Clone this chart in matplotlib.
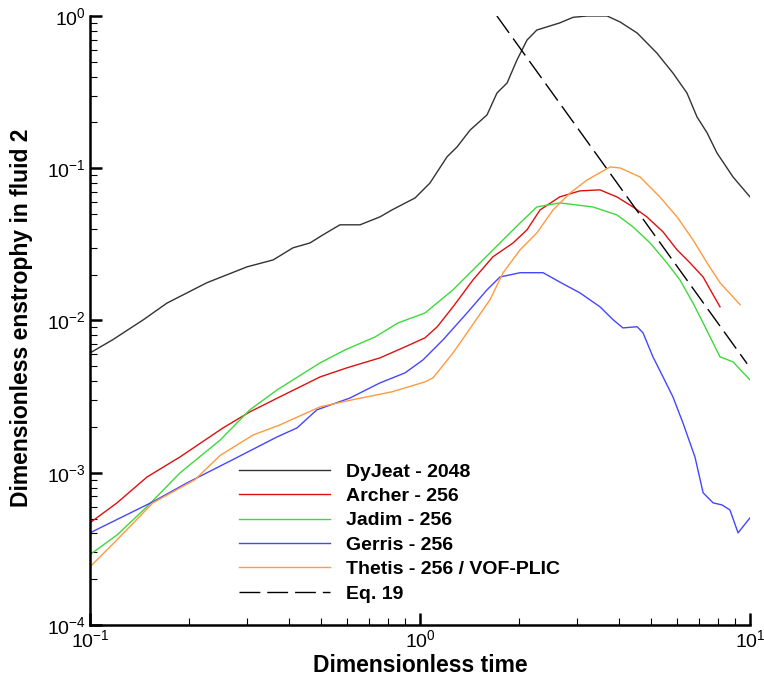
import numpy as np
import matplotlib
matplotlib.use("Agg")
import matplotlib.pyplot as plt
from matplotlib.ticker import LogLocator

plt.rcParams['font.family'] = ['Liberation Sans', 'DejaVu Sans']

# DyJeat - 2048
t_dyjeat = [0.1, 0.117, 0.145, 0.171, 0.226, 0.299, 0.359, 0.412, 0.464, 0.508,
            0.572, 0.658, 0.756, 0.822, 0.966, 1.072, 1.208, 1.295, 1.418, 1.596,
            1.711, 1.836, 1.967, 2.11, 2.26, 2.65, 2.91, 3.21, 3.69, 4.04,
            4.55, 5.22, 5.84, 6.44, 6.91, 7.41, 7.94, 8.88, 10.0]
e_dyjeat = [6.12e-3, 7.46e-3, 1.01e-2, 1.30e-2, 1.77e-2, 2.25e-2, 2.50e-2, 3.00e-2, 3.23e-2, 3.65e-2,
            4.25e-2, 4.25e-2, 4.79e-2, 5.32e-2, 6.38e-2, 8.0e-2, 0.119, 0.138, 0.178, 0.224,
            0.312, 0.363, 0.514, 0.695, 0.809, 0.90, 0.98, 1.0, 1.0, 0.913,
            0.773, 0.571, 0.422, 0.312, 0.217, 0.171, 0.126, 0.0877, 0.0648]

# Archer - 256
t_archer = [0.1, 0.1207, 0.149, 0.1874, 0.253, 0.305, 0.376, 0.498, 0.601, 0.756,
            0.901, 1.035, 1.127, 1.259, 1.448, 1.663, 1.914, 2.11, 2.31, 2.65,
            3.05, 3.51, 3.95, 4.42, 4.87, 5.45, 6.01, 6.58, 7.21, 7.67, 8.11]
e_archer = [4.69e-4, 6.34e-4, 9.39e-4, 1.27e-3, 1.97e-3, 2.51e-3, 3.15e-3, 4.26e-3, 4.89e-3, 5.68e-3,
            6.71e-3, 7.69e-3, 9.08e-3, 1.23e-2, 1.85e-2, 2.62e-2, 3.23e-2, 3.94e-2, 5.32e-2, 6.48e-2,
            7.10e-2, 7.21e-2, 6.48e-2, 5.57e-2, 4.79e-2, 3.82e-2, 2.91e-2, 2.39e-2, 1.93e-2, 1.52e-2, 1.23e-2]

# Jadim - 256
t_jadim = [0.1, 0.1207, 0.149, 0.1874, 0.248, 0.305, 0.369, 0.498, 0.593, 0.731,
           0.858, 1.035, 1.259, 1.52, 1.747, 2.01, 2.26, 2.65, 3.34, 3.95,
           4.42, 4.98, 5.60, 6.13, 6.72, 7.21, 8.11, 8.88, 10.0]
e_jadim = [2.9e-4, 3.9e-4, 6.0e-4, 9.98e-4, 1.64e-3, 2.59e-3, 3.50e-3, 5.27e-3, 6.41e-3, 7.80e-3,
           9.64e-3, 1.12e-2, 1.59e-2, 2.39e-2, 3.23e-2, 4.37e-2, 5.57e-2, 5.92e-2, 5.57e-2, 4.94e-2,
           4.12e-2, 3.23e-2, 2.39e-2, 1.85e-2, 1.30e-2, 9.64e-3, 5.77e-3, 5.35e-3, 4.07e-3]

# Gerris - 256
t_gerris = [0.1, 0.155, 0.197, 0.271, 0.369, 0.424, 0.487, 0.614, 0.756, 0.901,
            1.021, 1.174, 1.388, 1.596, 1.747, 2.01, 2.36, 2.65, 3.05, 3.51,
            3.85, 4.12, 4.55, 4.74, 5.08, 5.45, 5.84, 6.26, 6.81, 7.21,
            7.73, 8.22, 8.69, 9.2, 10.0]
e_gerris = [4.03e-4, 6.44e-4, 8.59e-4, 1.22e-3, 1.72e-3, 1.97e-3, 2.59e-3, 3.10e-3, 3.89e-3, 4.53e-3,
            5.51e-3, 7.46e-3, 1.12e-2, 1.59e-2, 1.93e-2, 2.06e-2, 2.06e-2, 1.79e-2, 1.52e-2, 1.23e-2,
            1.01e-2, 8.94e-3, 9.1e-3, 8.29e-3, 5.77e-3, 4.26e-3, 3.15e-3, 2.13e-3, 1.27e-3, 7.38e-4,
            6.34e-4, 6.15e-4, 5.70e-4, 4.03e-4, 5.06e-4]

# Thetis - 256 / VOF-PLIC
t_thetis = [0.1, 0.1207, 0.155, 0.208, 0.248, 0.312, 0.376, 0.498, 0.622, 0.822,
            1.035, 1.095, 1.259, 1.388, 1.63, 1.786, 2.01, 2.26, 2.53, 2.85,
            3.21, 3.77, 4.04, 4.64, 5.33, 6.01, 6.72, 7.41, 8.11, 9.33]
e_thetis = [2.41e-4, 3.62e-4, 6.34e-4, 9.0e-4, 1.3e-3, 1.77e-3, 2.06e-3, 2.71e-3, 3.01e-3, 3.40e-3,
            3.95e-3, 4.20e-3, 6.12e-3, 8.29e-3, 1.37e-2, 2.06e-2, 2.91e-2, 3.76e-2, 5.32e-2, 6.88e-2,
            8.38e-2, 0.102, 0.1004, 8.77e-2, 6.48e-2, 4.79e-2, 3.38e-2, 2.39e-2, 1.77e-2, 1.27e-2]

# Eq. 19 (loi de puissance)
t_eq19 = [1.71, 9.8]
e_eq19 = [1.0, 5.2e-3]

fig = plt.figure(figsize=(7.64, 6.77), dpi=100)
ax = fig.add_axes([0.1178, 0.0768, 0.8639, 0.8996])

lw = 1.0
ax.plot(t_dyjeat, e_dyjeat, color='#333333', lw=lw, label='DyJeat - 2048')
ax.plot(t_archer, e_archer, color='#dd1010', lw=lw, label='Archer - 256')
ax.plot(t_jadim, e_jadim, color='#3ed83e', lw=lw, label='Jadim - 256')
ax.plot(t_gerris, e_gerris, color='#4646ff', lw=lw, label='Gerris - 256')
ax.plot(t_thetis, e_thetis, color='#ff9a40', lw=lw, label='Thetis - 256 / VOF-PLIC')
ax.plot(t_eq19, e_eq19, color='black', lw=lw, dashes=(15, 5), label='Eq. 19')

ax.set_xscale('log')
ax.set_yscale('log')
ax.set_xlim(0.1, 10)
ax.set_ylim(1e-4, 1)

ax.spines['top'].set_visible(False)
ax.spines['right'].set_visible(False)
ax.spines['left'].set_linewidth(1.8)
ax.spines['bottom'].set_linewidth(1.8)

ax.xaxis.set_minor_locator(LogLocator(base=10, subs=np.arange(2, 10)))
ax.yaxis.set_minor_locator(LogLocator(base=10, subs=np.arange(2, 10)))
ax.tick_params(which='major', direction='in', length=8.5, width=1.8, labelsize=14, pad=3)
ax.tick_params(which='minor', direction='in', length=5, width=0.8)

ax.set_xlabel('Dimensionless time', fontsize=16.5, fontweight='bold', labelpad=2)
ax.set_ylabel('Dimensionless enstrophy in fluid 2', fontsize=16.5, fontweight='bold')
ax.yaxis.set_label_coords(-0.086, 0.505)

leg = ax.legend(loc='upper left', bbox_to_anchor=(0.2258, 0.266), frameon=False,
                prop={'weight': 'bold', 'size': 14}, handlelength=4.7, handletextpad=0.8,
                labelspacing=0.35, borderpad=0, borderaxespad=0)

fig.savefig('out.png', dpi=100)
